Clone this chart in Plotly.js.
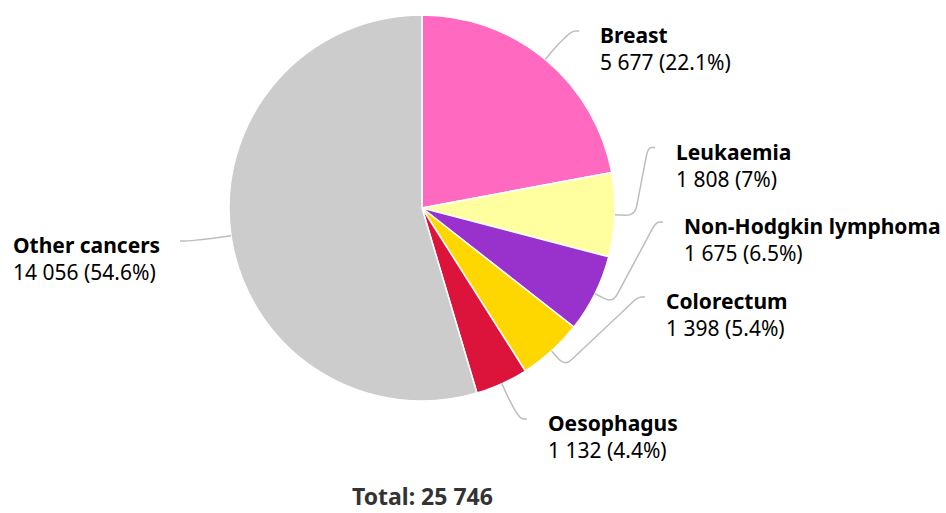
<!DOCTYPE html>
<html>
<head>
<meta charset="utf-8">
<script src="https://cdn.plot.ly/plotly-3.0.1.min.js"></script>
<style>html,body{margin:0;padding:0;background:#fff;}#chart{width:946px;height:513px;}</style>
</head>
<body>
<div id="chart"></div>
<script>
// ---- data ----
const categories = ["Breast", "Leukaemia", "Non-Hodgkin lymphoma", "Colorectum", "Oesophagus", "Other cancers"];
const values = [5677, 1808, 1675, 1398, 1132, 14056];
const colors = ["#ff69c0", "#ffffa0", "#9932cc", "#ffd700", "#dc143c", "#cccccc"];

// ---- layout config (label placement, pixels) ----
const W = 946, H = 513;
const pieCx = 422, pieCy = 208, pieR = 193;
const labelSide = ["right", "right", "right", "right", "right", "left"];
const labelX = [598, 674, 682, 664, 546, 162];   // left edge (right side) / right edge (left side)
const labelY = [48.5, 165, 239.5, 314.5, 436.5, 258.5]; // vertical centre of two-line block

const total = values.reduce((a, b) => a + b, 0);
const fmt = n => String(n).replace(/\B(?=(\d{3})+(?!\d))/g, " ");
const pct = v => String(parseFloat((v / total * 100).toFixed(1)));

const px = x => x / W, py = y => 1 - y / H;

// rounded polyline path in paper coords
function roundedPath(pts, rad) {
  let d = "M" + px(pts[0][0]) + "," + py(pts[0][1]);
  for (let i = 1; i < pts.length - 1; i++) {
    const [x0, y0] = pts[i - 1], [x1, y1] = pts[i], [x2, y2] = pts[i + 1];
    const l1 = Math.hypot(x1 - x0, y1 - y0), l2 = Math.hypot(x2 - x1, y2 - y1);
    const r1 = Math.min(rad, l1 / 2), r2 = Math.min(rad, l2 / 2);
    const a = [x1 - (x1 - x0) / l1 * r1, y1 - (y1 - y0) / l1 * r1];
    const b = [x1 + (x2 - x1) / l2 * r2, y1 + (y2 - y1) / l2 * r2];
    d += " L" + px(a[0]) + "," + py(a[1]) + " Q" + px(x1) + "," + py(y1) + " " + px(b[0]) + "," + py(b[1]);
  }
  const last = pts[pts.length - 1];
  d += " L" + px(last[0]) + "," + py(last[1]);
  return d;
}

const shapes = [], annotations = [];
let cum = 0;
values.forEach((v, i) => {
  const mid = (cum + v / 2) / total * 2 * Math.PI;
  cum += v;
  const sx = Math.sin(mid), sy = -Math.cos(mid);
  const p0 = [pieCx + pieR * sx, pieCy + pieR * sy];
  const p1 = [pieCx + (pieR + 20) * sx, pieCy + (pieR + 20) * sy];
  const right = labelSide[i] === "right";
  const endX = right ? labelX[i] - 19 : labelX[i] + 18;
  const endY = labelY[i] - 17.5;
  const p2 = [endX + (right ? -7 : 7), endY];
  const p3 = [endX, endY];
  shapes.push({
    type: "path", xref: "paper", yref: "paper",
    path: roundedPath([p0, p1, p2, p3], 9),
    line: { color: "#bdbdbd", width: 1.5 }
  });
  annotations.push({
    xref: "paper", yref: "paper",
    x: px(labelX[i]), y: py(labelY[i]),
    xanchor: right ? "left" : "right", yanchor: "middle", align: "left",
    showarrow: false,
    text: "<b>" + categories[i] + "</b><br>" + fmt(v) + " (" + pct(v) + "%)",
    font: { family: "Noto Sans, Open Sans, sans-serif", size: 21, color: "#000" }
  });
});

annotations.push({
  xref: "paper", yref: "paper", x: px(422), y: 0,
  xanchor: "center", yanchor: "bottom", showarrow: false, borderpad: 0,
  text: "<b>Total: " + fmt(total) + "</b>",
  font: { family: "Noto Sans, Open Sans, sans-serif", size: 23, color: "#333" }
});

const trace = {
  type: "pie",
  labels: categories,
  values: values,
  marker: { colors: colors, line: { color: "#ffffff", width: 1.5 } },
  sort: false,
  direction: "clockwise",
  rotation: 0,
  textinfo: "none",
  hoverinfo: "none",
  showlegend: false,
  domain: { x: [(pieCx - pieR) / W, (pieCx + pieR) / W], y: [1 - (pieCy + pieR) / H, 1 - (pieCy - pieR) / H] }
};

Plotly.newPlot("chart", [trace], {
  width: W, height: H,
  margin: { l: 0, r: 0, t: 0, b: 0 },
  paper_bgcolor: "#fff",
  showlegend: false,
  shapes: shapes,
  annotations: annotations
}, { displayModeBar: false, staticPlot: true });
</script>
</body>
</html>
